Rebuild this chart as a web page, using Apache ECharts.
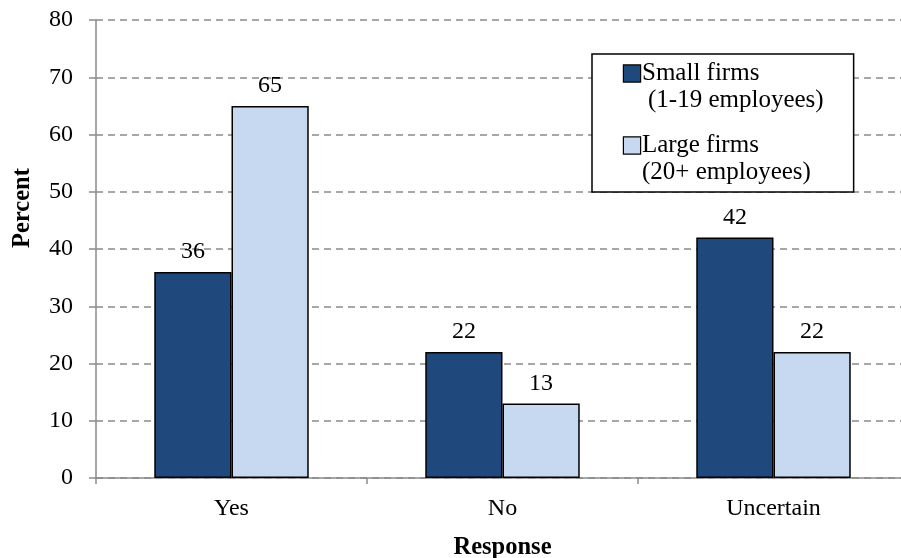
<!DOCTYPE html>
<html>
<head>
<meta charset="utf-8">
<script src="https://cdn.jsdelivr.net/npm/echarts@6/dist/echarts.min.js"></script>
<style>
  html, body { margin: 0; padding: 0; background: #fff; }
  #chart { width: 901px; height: 558px; }
</style>
</head>
<body>
<div id="chart"></div>
<script>
// Survey responses by firm size
const categories = ['Yes', 'No', 'Uncertain'];
const smallFirms = [36, 22, 42];
const largeFirms = [65, 13, 22];
const seriesNames = ['Small firms', 'Large firms'];
const seriesSubtitles = ['(1-19 employees)', '(20+ employees)'];
const yTicks = { min: 0, max: 80, step: 10 };

const FONT = '"Liberation Serif", "Times New Roman", serif';
const DARK = '#1F497D';
const LIGHT = '#C6D9F1';
const GRAY = '#8A8A8A';

const chart = echarts.init(document.getElementById('chart'), null, { renderer: 'canvas' });

const barLabel = {
  show: true,
  position: 'top',
  distance: 8,
  color: '#000',
  fontFamily: FONT,
  fontSize: 24
};

const legendText = { fontFamily: FONT, fontSize: 25, color: '#000', lineHeight: 27 };

chart.setOption({
  backgroundColor: '#fff',
  animation: false,
  grid: { left: 96, top: 20, width: 813, height: 458, containLabel: false, outerBoundsMode: 'none' },
  legend: {
    orient: 'vertical',
    left: 592,
    top: 54,
    padding: [6, 30, 6, 25],
    itemGap: 18,
    itemWidth: 1,
    itemHeight: 14,
    itemStyle: { opacity: 0 },
    borderColor: '#000',
    borderWidth: 1.5,
    backgroundColor: '#fff',
    data: seriesNames,
    formatter: function (name) {
      const i = seriesNames.indexOf(name);
      const box = i === 0 ? 's' : 'l';
      const ind = i === 0 ? 'i1' : 'i2';
      return '{' + box + '|}{t|' + name + '}\n{' + ind + '|' + seriesSubtitles[i] + '}';
    },
    textStyle: Object.assign({}, legendText, {
      rich: {
        s: { width: 16, height: 16, backgroundColor: DARK, borderColor: '#000', borderWidth: 1.2 },
        l: { width: 16, height: 16, backgroundColor: LIGHT, borderColor: '#000', borderWidth: 1.2 },
        t: Object.assign({}, legendText, { padding: [0, 0, 0, 2] }),
        i1: Object.assign({}, legendText, { padding: [0, 0, 0, 24] }),
        i2: Object.assign({}, legendText, { padding: [0, 0, 0, 18] })
      }
    })
  },
  xAxis: {
    type: 'category',
    data: categories,
    name: 'Response',
    nameLocation: 'middle',
    nameGap: 57,
    nameTextStyle: { fontFamily: FONT, fontSize: 24.5, fontWeight: 'bold', color: '#000' },
    axisLine: { show: true, lineStyle: { color: GRAY, width: 1.5 } },
    axisTick: { show: true, alignWithLabel: false, length: 6, lineStyle: { color: GRAY, width: 1.5 } },
    axisLabel: { fontFamily: FONT, fontSize: 24, color: '#000', margin: 19 },
    splitLine: { show: false }
  },
  yAxis: {
    type: 'value',
    min: yTicks.min,
    max: yTicks.max,
    interval: yTicks.step,
    name: 'Percent',
    nameLocation: 'middle',
    nameGap: 61,
    nameTextStyle: {
      fontFamily: FONT, fontSize: 24.5, fontWeight: 'bold', color: '#000',
      padding: [0, 0, 0, 82]
    },
    axisLine: { show: true, lineStyle: { color: GRAY, width: 1.5 } },
    axisTick: { show: true, inside: false, length: 7, lineStyle: { color: GRAY, width: 1.5 } },
    axisLabel: { fontFamily: FONT, fontSize: 24, color: '#000', margin: 23 },
    splitLine: { show: true, lineStyle: { color: GRAY, width: 1.5, type: [7, 5] } }
  },
  series: [
    {
      name: seriesNames[0],
      type: 'bar',
      data: smallFirms,
      barGap: '0%',
      barCategoryGap: '43%',
      itemStyle: { color: DARK, borderColor: '#000', borderWidth: 1.5 },
      label: barLabel
    },
    {
      name: seriesNames[1],
      type: 'bar',
      data: largeFirms,
      barGap: '0%',
      barCategoryGap: '43%',
      itemStyle: { color: LIGHT, borderColor: '#000', borderWidth: 1.5 },
      label: barLabel
    }
  ]
});
</script>
</body>
</html>
